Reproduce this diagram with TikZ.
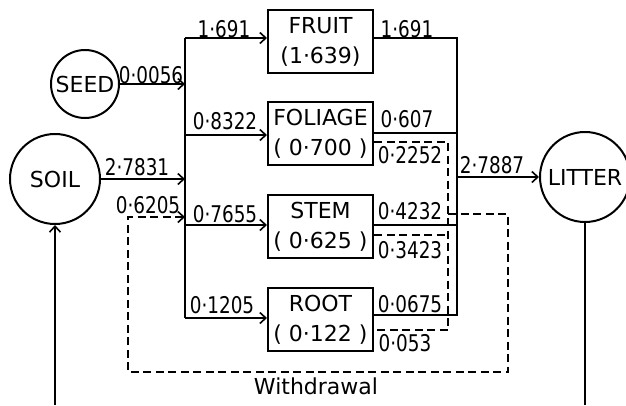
\documentclass[tikz,border=0pt]{standalone}
\usepackage{fontspec}
\setmainfont{DejaVu Sans}
\newfontfamily\numfont[FakeStretch=0.8]{DejaVu Sans}
\usetikzlibrary{arrows.meta}
\begin{document}
\begin{tikzpicture}[x=1pt,y=-1pt,
 flow/.style={line width=2pt},
 ret/.style={line width=2pt, dash pattern=on 8pt off 4.5pt},
 arr/.style={-{Straight Barb[length=6pt,width=11pt,line width=1.6pt]}},
 pool/.style={draw, line width=2pt, circle, inner sep=0pt, font=\fontsize{22}{24}\selectfont},
 comp/.style={draw, line width=2pt, minimum width=105pt, minimum height=63pt, inner sep=0pt, align=center, font=\fontsize{22}{30}\selectfont},
 lab/.style={inner sep=0pt, font=\numfont\fontsize{23}{24}\selectfont}]
\useasboundingbox (0,0) rectangle (626,405);

% pools
\node[pool, minimum size=68pt] (seed) at (85,84) {SEED};
\node[pool, minimum size=90pt] (soil) at (55,179) {SOIL};
\node[pool, minimum size=90pt] (litter) at (585,177) {LITTER};

% compartments
\node[comp] (fruit) at (320.5,41.5) {FRUIT\\(1·639)};
\node[comp] (foliage) at (320.5,133.5) {FOLIAGE\\( 0·700 )};
\node[comp] (stem) at (320.5,226.5) {STEM\\( 0·625 )};
\node[comp] (root) at (320.5,319.5) {ROOT\\( 0·122 )};

% bus coordinates
\coordinate (lb1) at (185,38);
\coordinate (lb2) at (185,135);
\coordinate (lb3) at (185,225);
\coordinate (lb4) at (185,318);
\coordinate (rb1) at (457,38);
\coordinate (rb2) at (457,133);
\coordinate (rb3) at (457,225);
\coordinate (rb4) at (457,315);
\coordinate (rbl) at (457,177);
\coordinate (db1) at (448,142);
\coordinate (db2) at (448,235);
\coordinate (db3) at (448,330);
\coordinate (dbo) at (448,214);
\coordinate (wr1) at (508,214);
\coordinate (wr2) at (508,372);
\coordinate (wl1) at (128,372);
\coordinate (wl2) at (128,217);
\coordinate (win) at (185,217);
\coordinate (soilb) at (55,405);
\coordinate (litb) at (585,405);

% input side
\draw[flow] (lb1) -- (lb4);
\draw[flow,arr] (seed.east) -- (seed.east -| lb1);
\draw[flow,arr] (soil.east) -- (soil.east -| lb1);
\draw[flow,arr] (lb1) -- (lb1 -| fruit.west);
\draw[flow,arr] (lb2) -- (lb2 -| foliage.west);
\draw[flow,arr] (lb3) -- (lb3 -| stem.west);
\draw[flow,arr] (lb4) -- (lb4 -| root.west);

% output side
\draw[flow] (rb1 -| fruit.east) -- (rb1) -- (rb4) -- (rb4 -| root.east);
\draw[flow] (rb2 -| foliage.east) -- (rb2);
\draw[flow] (rb3 -| stem.east) -- (rb3);
\draw[flow,arr] (rbl) -- (litter.west);

% withdrawal (dashed)
\draw[ret] (db1 -| foliage.east) -- (db1) -- (db3) -- (db3 -| root.east);
\draw[ret] (db2 -| stem.east) -- (db2);
\draw[ret,arr] (dbo) -- (wr1) -- (wr2) -- (wl1) -- (wl2) -- (win);

% soil / litter links
\draw[flow,arr] (soilb) -- (soil.south);
\draw[flow] (litter.south) -- (litb);

% labels
\node[lab] (l1) at (224,29) {1·691};
\node[lab] (l2) at (151,75) {0·0056};
\node[lab] (l3) at (225,121) {0·8322};
\node[lab] (l4) at (137,167) {2·7831};
\node[lab] (l5) at (148,205) {0·6205};
\node[lab] (l6) at (225,214) {0·7655};
\node[lab] (l7) at (222,305) {0·1205};
\node[lab] (r1) at (407,29) {1·691};
\node[lab] (r2) at (407,119) {0·607};
\node[lab] (r3) at (410,155) {0·2252};
\node[lab] (r4) at (410,211) {0·4232};
\node[lab] (r5) at (410,250) {0·3423};
\node[lab] (r6) at (410,304) {0·0675};
\node[lab] (r7) at (405,343) {0·053};
\node[lab] (r8) at (492,165) {2·7887};
\node[inner sep=0pt, font=\fontsize{22}{24}\selectfont] (wd) at (316,386) {Withdrawal};
\end{tikzpicture}
\end{document}
